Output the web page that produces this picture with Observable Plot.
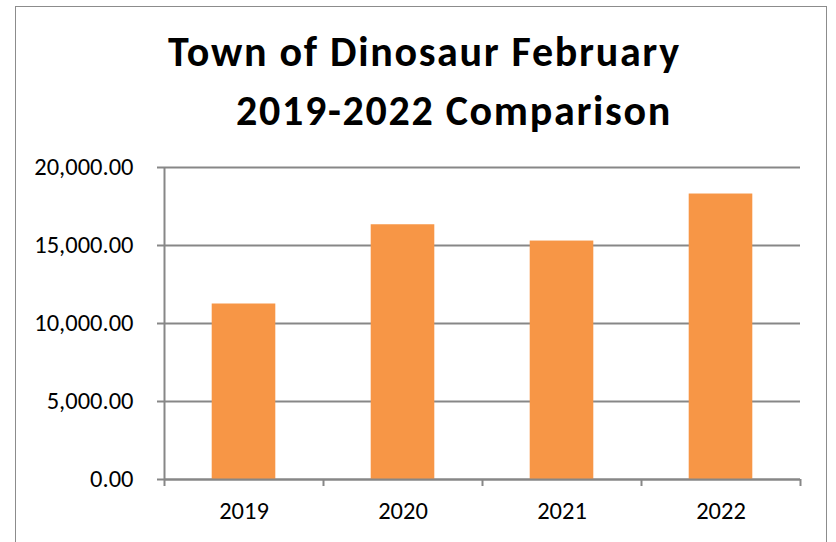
<!DOCTYPE html>
<html>
<head>
<meta charset="utf-8">
<script src="https://cdn.jsdelivr.net/npm/d3@7"></script>
<script src="https://cdn.jsdelivr.net/npm/@observablehq/plot@0.6"></script>
<style>
  html, body { margin: 0; padding: 0; background: #fff; }
  #wrap { position: relative; width: 836px; height: 542px; overflow: hidden; background: #fff;
          font-family: Carlito, Calibri, Lato, "Open Sans", sans-serif; }
  #frame { position: absolute; left: 15px; top: 6px; width: 812px; height: 600px;
           border: 1.5px solid #8c8c8c; box-sizing: border-box; }
  .title { position: absolute; font-weight: bold; font-size: 42px; letter-spacing: 1.7px; color: #000; white-space: nowrap; line-height: 1; }
  #chart { position: absolute; left: 0; top: 0; }
</style>
</head>
<body>
<div id="wrap">
  <div id="frame"></div>
  <div id="chart"></div>
  <div class="title" id="t1" style="left:168px; top:31px;">Town of Dinosaur February</div>
  <div class="title" id="t2" style="left:236px; top:90px;">2019-2022 Comparison</div>
</div>
<script>
const years = ["2019", "2020", "2021", "2022"];
const values = [11250, 16330, 15285, 18300];
const yTicks = [0, 5000, 10000, 15000, 20000];

const data = years.map((year, i) => ({ i, year, value: values[i] }));
const grid = "#878787";

const chart = Plot.plot({
  width: 836,
  height: 542,
  marginLeft: 164,
  marginRight: 36,
  marginTop: 167,
  marginBottom: 63,
  style: { fontFamily: "Carlito, Calibri, Lato, sans-serif", fontSize: "24.5px", color: "#000", background: "transparent" },
  x: { domain: [0, years.length], axis: null },
  y: { domain: [0, 20000], axis: null },
  marks: [
    Plot.ruleY(yTicks, { stroke: grid, strokeWidth: 2 }),
    Plot.rectY(data, { x1: d => d.i + 0.3, x2: d => d.i + 0.7, y1: 0, y2: "value", fill: "#F79646" }),
    Plot.axisY({ ticks: yTicks, tickFormat: d3.format(",.2f"), tickSize: 7, tickPadding: 24,
                 stroke: grid, strokeWidth: 2, fill: "#000", label: null }),
    Plot.axisX({ ticks: d3.range(0, years.length + 1), tickFormat: () => "", tickSize: 7,
                 stroke: grid, strokeWidth: 2, label: null }),
    Plot.axisX({ ticks: years.map((y, i) => i + 0.5), tickFormat: d => years[Math.floor(d)], tickSize: 0,
                 tickPadding: 22, fill: "#000", label: null }),
    Plot.ruleX([0], { stroke: grid, strokeWidth: 2 }),
    Plot.ruleY([0], { stroke: grid, strokeWidth: 2 })
  ]
});
document.getElementById("chart").appendChild(chart);
</script>
</body>
</html>
